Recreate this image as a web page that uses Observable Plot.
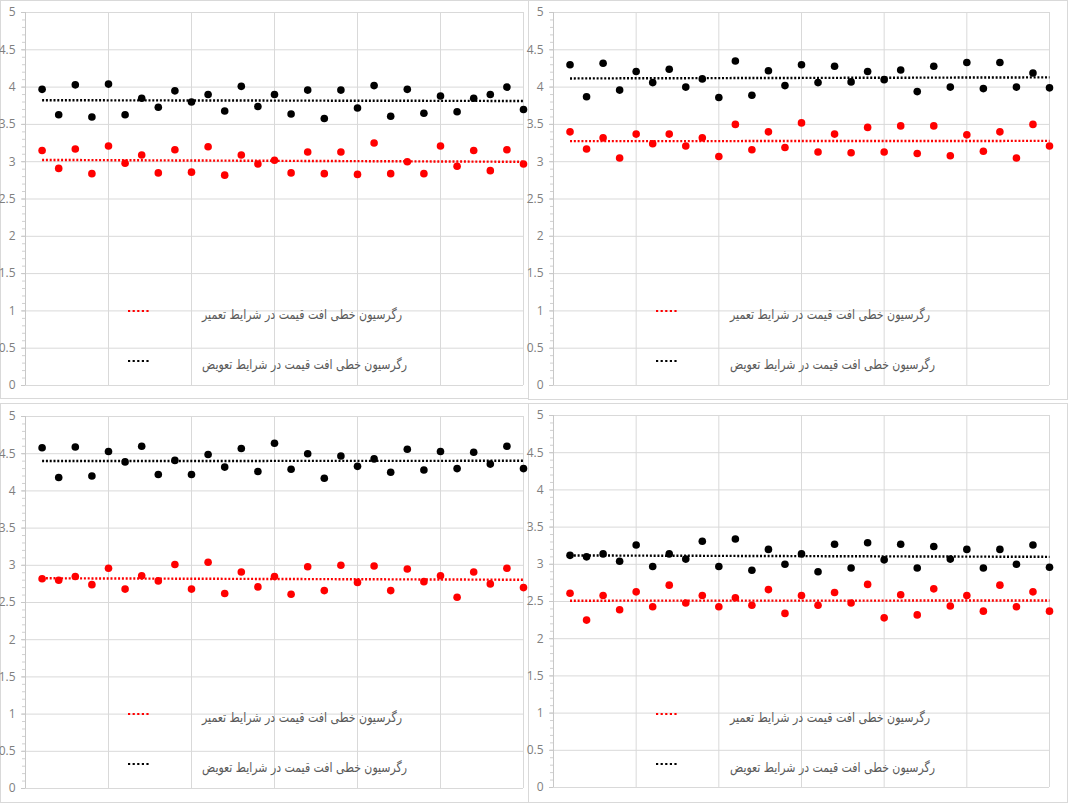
<!DOCTYPE html>
<html>
<head>
<meta charset="utf-8">
<script src="https://cdn.jsdelivr.net/npm/d3@7"></script>
<script src="https://cdn.jsdelivr.net/npm/@observablehq/plot@0.6"></script>
<style>
  html, body { margin: 0; padding: 0; background: #fff; }
  body { width: 1080px; height: 805px; overflow: hidden; position: relative; font-family: "Open Sans", sans-serif; }
  .panel { position: absolute; outline: 1px solid #d9d9d9; outline-offset: -1px; background: #fff; }
  .panel svg { position: absolute; left: 0; top: 0; overflow: visible; }
  .leg { position: absolute; white-space: nowrap; }
  .leg .txt { position: absolute; direction: rtl; font-family: "DejaVu Sans", sans-serif; font-size: 13.5px; color: #595959; transform-origin: 0 50%; }
  .leg svg { position: absolute; }
</style>
</head>
<body>
<script>
// ---- data ----
const obs = [1,2,3,4,5,6,7,8,9,10,11,12,13,14,15,16,17,18,19,20,21,22,23,24,25,26,27,28,29,30];

const p1Repair  = [3.15,2.91,3.17,2.84,3.21,2.98,3.09,2.85,3.16,2.86,3.20,2.82,3.09,2.97,3.02,2.85,3.13,2.84,3.13,2.83,3.25,2.84,3.00,2.84,3.21,2.94,3.15,2.88,3.16,2.97];
const p1Replace = [3.97,3.63,4.03,3.60,4.04,3.63,3.85,3.73,3.95,3.80,3.90,3.68,4.01,3.74,3.90,3.64,3.96,3.58,3.96,3.72,4.02,3.61,3.97,3.65,3.88,3.67,3.85,3.90,4.00,3.70];

const p2Repair  = [3.40,3.17,3.32,3.05,3.37,3.24,3.37,3.21,3.32,3.07,3.50,3.16,3.40,3.19,3.52,3.13,3.37,3.12,3.46,3.13,3.48,3.11,3.48,3.08,3.36,3.14,3.40,3.05,3.50,3.21];
const p2Replace = [4.30,3.87,4.32,3.96,4.21,4.06,4.24,4.00,4.11,3.86,4.35,3.89,4.22,4.02,4.30,4.06,4.28,4.07,4.21,4.10,4.23,3.94,4.28,4.00,4.33,3.98,4.33,4.00,4.19,3.99];

const p3Repair  = [2.82,2.80,2.85,2.74,2.96,2.68,2.86,2.79,3.01,2.68,3.04,2.62,2.91,2.71,2.85,2.61,2.98,2.66,3.00,2.77,2.99,2.66,2.95,2.78,2.86,2.57,2.91,2.75,2.96,2.70];
const p3Replace = [4.58,4.18,4.59,4.20,4.53,4.39,4.60,4.22,4.41,4.22,4.49,4.32,4.57,4.26,4.64,4.29,4.50,4.17,4.47,4.33,4.43,4.25,4.56,4.28,4.53,4.30,4.52,4.36,4.60,4.30];

const p4Repair  = [2.61,2.25,2.58,2.39,2.63,2.43,2.72,2.48,2.58,2.43,2.55,2.45,2.66,2.34,2.58,2.45,2.62,2.48,2.73,2.28,2.59,2.32,2.67,2.44,2.58,2.37,2.72,2.43,2.63,2.37];
const p4Replace = [3.12,3.10,3.14,3.04,3.26,2.97,3.14,3.07,3.31,2.97,3.34,2.92,3.20,3.00,3.14,2.90,3.27,2.95,3.29,3.06,3.27,2.95,3.24,3.07,3.20,2.95,3.20,3.00,3.26,2.96];

const yTicks = [0,0.5,1,1.5,2,2.5,3,3.5,4,4.5,5];
const xGrid = [0,5,10,15,20,25,30];
const yTickLabels = ["0","0.5","1","1.5","2","2.5","3","3.5","4","4.5","5"];
const seriesNames = ["رگرسیون خطی افت قیمت در شرایط تعمیر", "رگرسیون خطی افت قیمت در شرایط تعویض"];
const seriesColors = ["#ff0000", "#000000"];

// ---- layout of the four panels ----
const panels = [
  {repair: p1Repair, replace: p1Replace, left: 0,   top: 0,   w: 529, h: 399, ml: 25, mr: 6,  mt: 12, mb: 14},
  {repair: p2Repair, replace: p2Replace, left: 528, top: 0,   w: 540, h: 400, ml: 25, mr: 19, mt: 12, mb: 15},
  {repair: p3Repair, replace: p3Replace, left: 0,   top: 403, w: 529, h: 400, ml: 25, mr: 6,  mt: 13, mb: 15},
  {repair: p4Repair, replace: p4Replace, left: 528, top: 403, w: 540, h: 400, ml: 25, mr: 19, mt: 12, mb: 16}
];

const minorTicks = d3.ticks(0, 5, 50);

function makeChart(p) {
  const repairRows = obs.map((x, i) => ({x, y: p.repair[i]}));
  const replaceRows = obs.map((x, i) => ({x, y: p.replace[i]}));
  const trendStyle = {ci: 0, strokeWidth: 2.4, strokeDasharray: "2,1.8", strokeLinecap: "butt"};
  return Plot.plot({
    width: p.w, height: p.h,
    marginLeft: p.ml, marginRight: p.mr, marginTop: p.mt, marginBottom: p.mb,
    style: {background: "transparent", fontFamily: "Open Sans, sans-serif", fontSize: "12px", color: "#7f7f7f"},
    x: {domain: [0, 30], axis: null},
    y: {domain: [0, 5], axis: null},
    marks: [
      Plot.gridY(yTicks, {stroke: "#d9d9d9", strokeOpacity: 1}),
      Plot.gridX(xGrid, {stroke: "#d9d9d9", strokeOpacity: 1}),
      Plot.axisY(minorTicks, {anchor: "left", tickSize: 3, text: null, label: null, stroke: "#d0d0d0", strokeOpacity: 1}),
      Plot.axisY(yTicks, {anchor: "left", label: null, tickSize: 4, tickPadding: 6, stroke: "#c8c8c8", strokeOpacity: 1,
        fill: "#7f7f7f", tickFormat: (d) => yTickLabels[yTicks.indexOf(d)]}),
      Plot.ruleX([0], {stroke: "#c8c8c8"}),
      Plot.dot(repairRows, {x: "x", y: "y", r: 3.8, fill: seriesColors[0], stroke: "none"}),
      Plot.dot(replaceRows, {x: "x", y: "y", r: 3.8, fill: seriesColors[1], stroke: "none"}),
      Plot.linearRegressionY(repairRows, {x: "x", y: "y", stroke: seriesColors[0], ...trendStyle}),
      Plot.linearRegressionY(replaceRows, {x: "x", y: "y", stroke: seriesColors[1], ...trendStyle})
    ]
  });
}

panels.forEach((p) => {
  const div = document.createElement("div");
  div.className = "panel";
  div.style.left = p.left + "px";
  div.style.top = p.top + "px";
  div.style.width = p.w + "px";
  div.style.height = p.h + "px";
  div.appendChild(makeChart(p));
  document.body.appendChild(div);
  // legend inside the plot area
  const legendY = [312, 362];
  seriesNames.forEach((name, k) => {
    const leg = document.createElement("div");
    leg.className = "leg";
    leg.style.left = "0px";
    leg.style.top = legendY[k] + "px";
    const ns = "http://www.w3.org/2000/svg";
    const s = document.createElementNS(ns, "svg");
    s.setAttribute("width", 26); s.setAttribute("height", 6);
    s.style.left = "127px"; s.style.top = "-4px";
    const ln = document.createElementNS(ns, "line");
    ln.setAttribute("x1", 1); ln.setAttribute("x2", 24);
    ln.setAttribute("y1", 3); ln.setAttribute("y2", 3);
    ln.setAttribute("stroke", seriesColors[k]);
    ln.setAttribute("stroke-width", 2.2);
    ln.setAttribute("stroke-dasharray", "2.2,2.4");
    s.appendChild(ln);
    leg.appendChild(s);
    const t = document.createElement("span");
    t.className = "txt";
    t.style.left = "202px";
    t.textContent = name;
    leg.appendChild(t);
    div.appendChild(leg);
    // fit the label width to the legend box of the reference (about 200px)
    const wNow = t.getBoundingClientRect().width;
    const hNow = t.getBoundingClientRect().height;
    const target = k === 0 ? 200 : 205;
    t.style.top = (-hNow / 2 + 2) + "px";
    t.style.transform = "scaleX(" + (target / wNow) + ")";
  });
});
</script>
</body>
</html>
